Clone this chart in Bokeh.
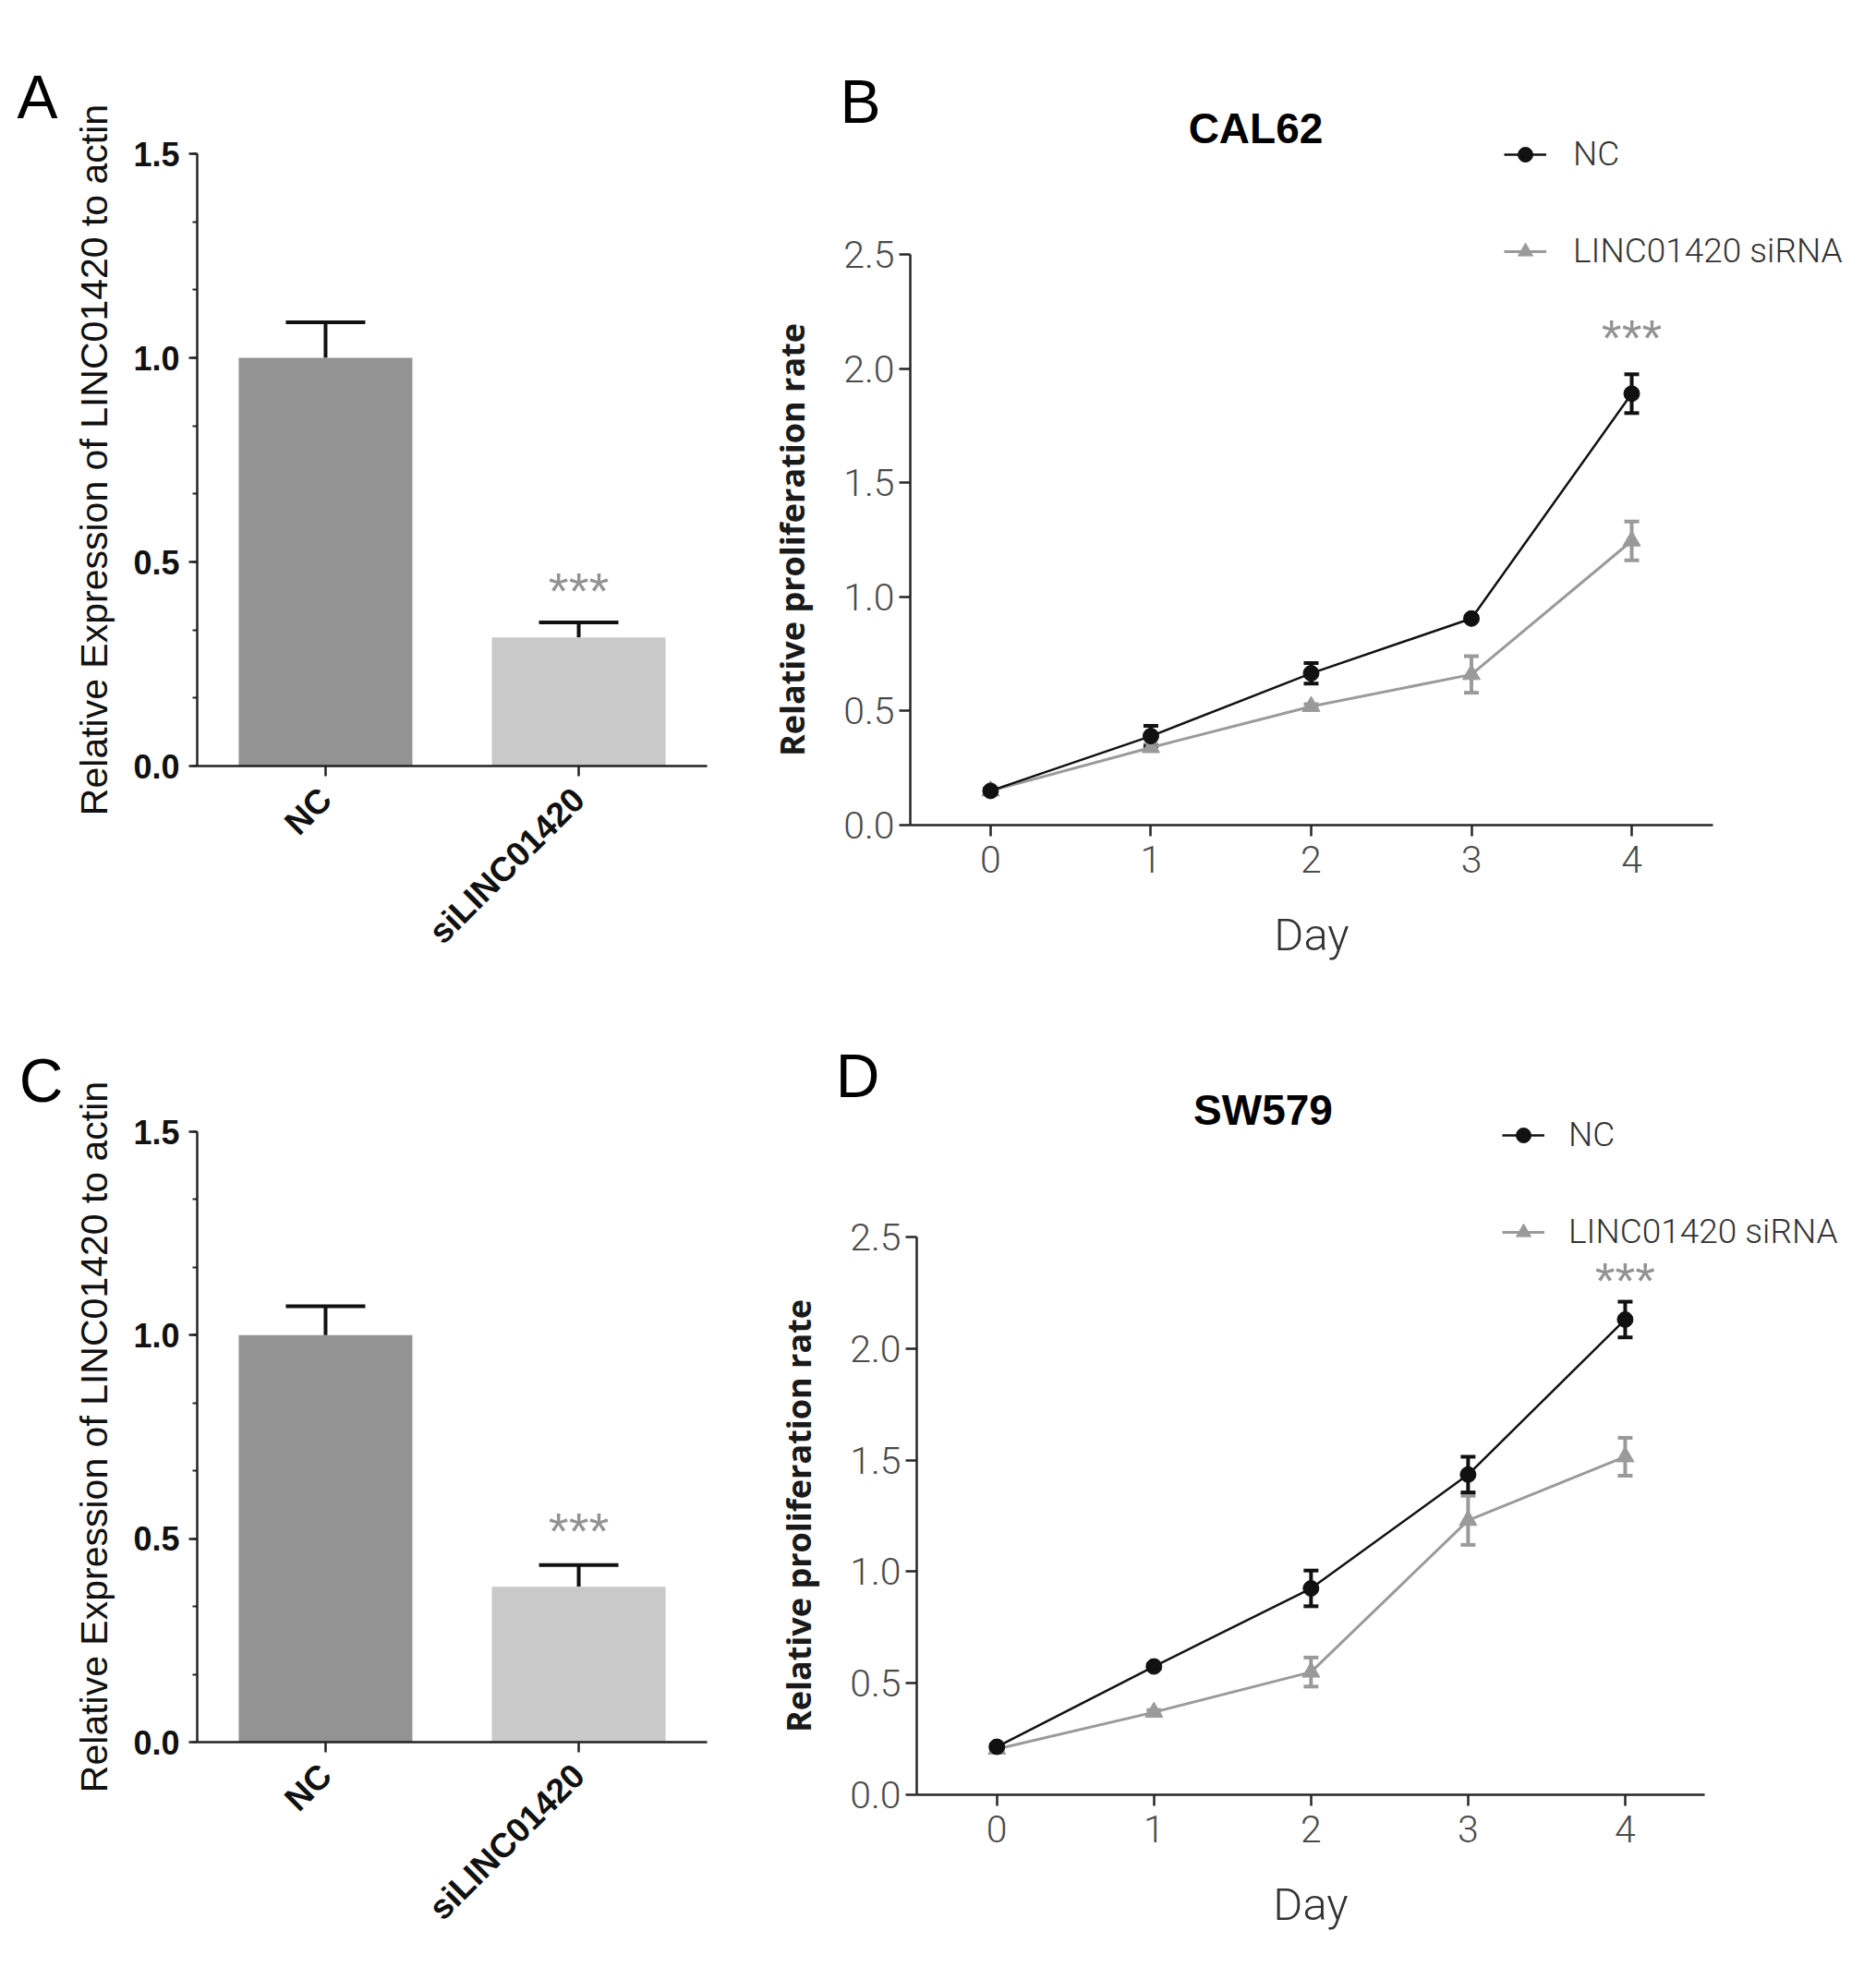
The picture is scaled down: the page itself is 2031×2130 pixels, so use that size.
import math
from bokeh.plotting import figure
from bokeh.layouts import column, row
from bokeh.models import (ColumnDataSource, Whisker, TeeHead, Label, Legend, LegendItem,
                          FixedTicker, SingleIntervalTicker, PrintfTickFormatter, Range1d,
                          LinearAxis)
from bokeh.embed import file_html
from bokeh.resources import INLINE

# ---------------- data ----------------
categories = ["NC", "siLINC01420"]
cal62_expr = [1.0, 0.315]
cal62_expr_err = [0.087, 0.037]
sw579_expr = [1.0, 0.382]
sw579_expr_err = [0.071, 0.053]

days = [0, 1, 2, 3, 4]
cal62_nc = [0.15, 0.39, 0.665, 0.905, 1.89]
cal62_nc_err = [0.01, 0.045, 0.045, 0.01, 0.085]
cal62_si = [0.15, 0.34, 0.52, 0.66, 1.245]
cal62_si_err = [0.01, 0.015, 0.01, 0.08, 0.085]
sw579_nc = [0.215, 0.575, 0.925, 1.435, 2.13]
sw579_nc_err = [0.01, 0.01, 0.08, 0.08, 0.08]
sw579_si = [0.205, 0.37, 0.55, 1.23, 1.515]
sw579_si_err = [0.01, 0.01, 0.065, 0.11, 0.085]

series_labels = ["NC", "LINC01420 siRNA"]
expr_ylabel = "Relative Expression of LINC01420 to actin"
prolif_ylabel = "Relative proliferation rate"
prolif_xlabel = "Day"
sig_text = "***"

ARIAL = "Liberation Sans"
LIGHT = "Roboto Light"
OPEN = "Open Sans"
STAR_OFF = 8
BASE_CORR = 0.4   # rendered baseline sits ~0.4em below the requested one


class Geo:
    """Maps page pixels to data for a figure whose frame fills its whole box."""
    def __init__(self, box, frame, xr, yr):
        self.box, self.frame, self.xr, self.yr = box, frame, xr, yr
        bx0, by0, bx1, by1 = box
        L, T, R, B = frame
        ux = (xr[1] - xr[0]) / (R - L)
        uy = (yr[1] - yr[0]) / (B - T)
        self.fx = (xr[0] - (L - bx0) * ux, xr[1] + (bx1 - R) * ux)
        self.fy = (yr[0] - (by1 - B) * uy, yr[1] + (T - by0) * uy)

    def data(self, px, py):
        bx0, by0, bx1, by1 = self.box
        x = self.fx[0] + (px - bx0) / (bx1 - bx0) * (self.fx[1] - self.fx[0])
        y = self.fy[1] - (py - by0) / (by1 - by0) * (self.fy[1] - self.fy[0])
        return x, y

    def page(self, x, y):
        bx0, by0, bx1, by1 = self.box
        px = bx0 + (x - self.fx[0]) / (self.fx[1] - self.fx[0]) * (bx1 - bx0)
        py = by0 + (self.fy[1] - y) / (self.fy[1] - self.fy[0]) * (by1 - by0)
        return px, py


def make_fig(g):
    bx0, by0, bx1, by1 = g.box
    p = figure(width=bx1 - bx0, height=by1 - by0,
               x_range=Range1d(*g.fx), y_range=Range1d(*g.fy),
               x_axis_location=None, y_axis_location=None, min_border=0,
               output_backend="svg", toolbar_location=None)
    p.title.visible = False
    p.grid.visible = False
    p.outline_line_color = None
    p.background_fill_color = "white"
    p.border_fill_color = "white"
    xa = LinearAxis(fixed_location=g.yr[0], bounds=g.xr)
    ya = LinearAxis(fixed_location=g.xr[0], bounds=g.yr)
    p.add_layout(xa, "below")
    p.add_layout(ya, "left")
    return p, xa, ya


def add_text(p, g, px, py, text, font, size, color="black", style="normal", align="center"):
    x, y = g.data(px, py - BASE_CORR * size)
    p.add_layout(Label(x=x, y=y, text=text, text_font=font, text_font_size=f"{size}px",
                       text_font_style=style, text_color=color, text_align=align,
                       text_baseline="alphabetic"))


def add_stars(p, g, x, y):
    sx, sy = g.page(x, y)
    sy = sy + STAR_OFF
    xd, yd = g.data(sx, sy)
    p.add_layout(Label(x=xd, y=yd, text=sig_text, text_font=ARIAL, text_font_size="56px",
                       text_color="#939393", text_align="center", text_baseline="alphabetic"))


def style_axis(ax, color, width):
    ax.axis_line_width = width
    ax.axis_line_color = color
    ax.major_tick_line_width = width
    ax.major_tick_line_color = color
    ax.minor_tick_line_color = color
    ax.minor_tick_line_width = 2
    ax.major_tick_in = 0
    ax.minor_tick_in = 0


def bar_panel(box, frame, means, errs, star_y, letter, letter_pos):
    g = Geo(box, frame, (-0.507, 1.507), (0.0, 1.5))
    p, xa, ya = make_fig(g)
    xs = list(range(len(categories)))
    src = ColumnDataSource(dict(x=xs, top=means,
                                upper=[m + e for m, e in zip(means, errs)],
                                color=["#939393", "#c9c9c9"]))
    p.vbar(x="x", top="top", width=0.686, fill_color="color", line_color=None, source=src)
    p.add_layout(Whisker(source=src, base="x", lower="top", upper="upper",
                         line_width=4, line_color="#111111",
                         upper_head=TeeHead(size=86, line_width=4, line_color="#111111"),
                         lower_head=None))
    style_axis(xa, "#222222", 2.5)
    xa.ticker = FixedTicker(ticks=xs)
    xa.major_label_overrides = {i: c for i, c in enumerate(categories)}
    xa.major_label_orientation = math.pi / 4
    xa.major_label_text_font = ARIAL
    xa.major_label_text_font_size = "37px"
    xa.major_label_text_font_style = "bold"
    xa.major_label_text_color = "#111111"
    xa.major_tick_out = 11
    xa.minor_tick_out = 0
    xa.major_label_standoff = 19

    style_axis(ya, "#222222", 2.5)
    ya.ticker = SingleIntervalTicker(interval=0.5, num_minor_ticks=3)
    ya.formatter = PrintfTickFormatter(format="%.1f")
    ya.major_tick_out = 9
    ya.minor_tick_out = 5
    ya.major_label_standoff = 10
    ya.major_label_text_font = ARIAL
    ya.major_label_text_font_size = "36px"
    ya.major_label_text_font_style = "bold"
    ya.major_label_text_color = "#111111"
    ya.axis_label = expr_ylabel
    ya.axis_label_text_font = ARIAL
    ya.axis_label_text_font_size = "41px"
    ya.axis_label_text_font_style = "normal"
    ya.axis_label_text_color = "#111111"
    ya.axis_label_standoff = 16

    add_stars(p, g, xs[1], star_y)
    add_text(p, g, letter_pos[0], letter_pos[1], letter, ARIAL, 66)
    return p


def line_panel(box, frame, xr, nc, nc_err, si, si_err, star_y, title, title_pos,
               letter, letter_pos, legend_pos, label_standoff):
    g = Geo(box, frame, xr, (0.0, 2.5))
    p, xa, ya = make_fig(g)
    s_nc = ColumnDataSource(dict(d=days, v=nc, lo=[a - b for a, b in zip(nc, nc_err)],
                                 hi=[a + b for a, b in zip(nc, nc_err)]))
    s_si = ColumnDataSource(dict(d=days, v=si, lo=[a - b for a, b in zip(si, si_err)],
                                 hi=[a + b for a, b in zip(si, si_err)]))
    c_nc, c_si = "#111111", "#9a9a9a"
    l2 = p.line("d", "v", source=s_si, line_color=c_si, line_width=3)
    l1 = p.line("d", "v", source=s_nc, line_color=c_nc, line_width=2.5)
    for s, c in ((s_si, c_si), (s_nc, c_nc)):
        p.add_layout(Whisker(source=s, base="d", lower="lo", upper="hi", line_width=4, line_color=c,
                             upper_head=TeeHead(size=16, line_width=4, line_color=c),
                             lower_head=TeeHead(size=16, line_width=4, line_color=c)))
    m2 = p.scatter("d", "v", source=s_si, marker="triangle", size=19, fill_color=c_si, line_color=c_si)
    m1 = p.scatter("d", "v", source=s_nc, marker="circle", size=17, fill_color=c_nc, line_color=c_nc)

    style_axis(xa, "#262626", 2.5)
    xa.ticker = FixedTicker(ticks=days)
    xa.major_label_text_font = LIGHT
    xa.major_label_text_font_size = "41px"
    xa.major_label_text_color = "#4a4a4a"
    xa.major_tick_out = 12
    xa.minor_tick_out = 0
    xa.major_label_standoff = 10
    xa.axis_label = prolif_xlabel
    xa.axis_label_text_font = LIGHT
    xa.axis_label_text_font_size = "49px"
    xa.axis_label_text_font_style = "normal"
    xa.axis_label_text_color = "#333333"
    xa.axis_label_standoff = 36

    style_axis(ya, "#262626", 2.5)
    ya.ticker = SingleIntervalTicker(interval=0.5, num_minor_ticks=0)
    ya.formatter = PrintfTickFormatter(format="%.1f")
    ya.major_label_text_font = LIGHT
    ya.major_label_text_font_size = "41px"
    ya.major_label_text_color = "#4a4a4a"
    ya.major_tick_out = 12
    ya.minor_tick_out = 0
    ya.major_label_standoff = 5
    ya.axis_label = prolif_ylabel
    ya.axis_label_text_font = OPEN
    ya.axis_label_text_font_size = "36px"
    ya.axis_label_text_font_style = "bold"
    ya.axis_label_text_color = "#1a1a1a"
    ya.axis_label_standoff = 28

    bx0, by0, bx1, by1 = box
    legend = Legend(items=[LegendItem(label=series_labels[0], renderers=[l1, m1]),
                           LegendItem(label=series_labels[1], renderers=[l2, m2])],
                    location=(legend_pos[0] - bx0, by1 - legend_pos[1]),
                    orientation="vertical", padding=0, margin=0, spacing=62,
                    glyph_width=46, glyph_height=40, label_height=40,
                    label_standoff=label_standoff,
                    label_text_font=LIGHT, label_text_font_size="37px",
                    label_text_color="#333333", border_line_color=None,
                    background_fill_alpha=0)
    p.add_layout(legend)

    add_stars(p, g, days[-1], star_y)
    add_text(p, g, title_pos[0], title_pos[1], title, ARIAL, 46, style="bold")
    add_text(p, g, letter_pos[0], letter_pos[1], letter, ARIAL, 66)
    return p


pA = bar_panel((0, 0, 800, 1070), (213, 166, 765, 829), cal62_expr, cal62_expr_err, 0.447,
               "A", (40, 131))
pC = bar_panel((0, 1070, 800, 2122), (213, 1225, 765, 1886), sw579_expr, sw579_expr_err, 0.538,
               "C", (44, 1196))
pB = line_panel((800, 0, 2023, 1070), (985, 275, 1854, 893), (-0.501, 4.507),
                cal62_nc, cal62_nc_err, cal62_si, cal62_si_err, 2.17,
                "CAL62", (1359, 157), "B", (931, 136), (1628, 293), 29)
pD = line_panel((800, 1070, 2023, 2122), (992, 1339, 1845, 1943), (-0.51, 4.506),
                sw579_nc, sw579_nc_err, sw579_si, sw579_si_err, 2.34,
                "SW579", (1367, 1220), "D", (928, 1191), (1626, 1355), 26)

layout = column(row(pA, pB), row(pC, pD))
open("out.html", "w").write(file_html(layout, INLINE))
